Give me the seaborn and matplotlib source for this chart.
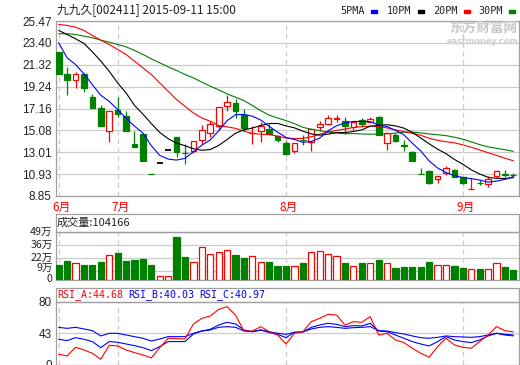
import numpy as np
import pandas as pd
import matplotlib
matplotlib.use("Agg")
import matplotlib.pyplot as plt
import seaborn as sns
from matplotlib.patches import Rectangle

# ---------------- data ----------------
opens = [22.51, 20.45, 19.91, 20.45, 18.29, 17.25, 14.99, 17.06, 16.49, 13.82,
         14.77, 10.98, 12.02, 13.22, 14.45, 12.98, 13.09, 14.17, 14.82, 15.50,
         17.37, 17.72, 16.50, 14.80, 14.99, 15.24, 14.57, 13.90, 13.09, 14.20,
         13.97, 15.41, 15.72, 16.20, 15.95, 15.41, 16.07, 15.85, 16.33, 13.88,
         14.61, 13.69, 13.03, 10.94, 11.19, 10.46, 11.03, 11.35, 10.65, 9.54,
         10.10, 10.01, 10.71, 10.90, 10.88]
highs = [22.51, 21.08, 20.67, 20.50, 18.58, 17.53, 16.93, 18.29, 16.90, 15.06,
         14.77, 10.98, 12.02, 13.22, 14.45, 13.75, 14.07, 15.57, 16.01, 17.31,
         18.45, 18.04, 17.12, 15.47, 15.92, 15.69, 14.68, 14.04, 13.88, 14.68,
         15.18, 15.95, 16.58, 16.58, 16.33, 16.01, 16.29, 16.33, 16.42, 14.90,
         14.80, 14.20, 13.12, 11.51, 11.35, 10.71, 11.66, 11.44, 10.65, 10.55,
         10.33, 10.71, 11.35, 11.28, 11.03]
lows = [20.48, 18.48, 19.15, 18.71, 17.18, 15.47, 13.95, 16.33, 14.99, 13.47,
        12.14, 10.90, 12.02, 13.22, 12.53, 11.85, 12.95, 13.82, 14.49, 15.15,
        16.96, 16.26, 14.99, 13.76, 13.95, 14.74, 13.95, 12.71, 12.90, 13.73,
        13.09, 14.99, 15.63, 15.85, 14.77, 15.15, 15.47, 15.85, 14.61, 13.25,
        13.95, 13.09, 12.15, 10.93, 9.98, 10.08, 10.87, 10.62, 10.00, 9.54,
        9.85, 9.70, 10.55, 10.65, 10.62]
closes = [20.48, 19.85, 20.48, 19.12, 17.18, 15.47, 16.93, 16.61, 14.99, 13.47,
          12.14, 10.93, 12.02, 13.22, 13.00, 12.95, 14.07, 15.13, 15.72, 17.31,
          17.79, 16.89, 15.30, 14.84, 15.50, 14.78, 14.14, 12.80, 13.88, 14.14,
          15.18, 15.72, 16.29, 16.26, 15.53, 15.85, 15.72, 16.20, 14.61, 14.84,
          14.04, 13.63, 12.20, 10.93, 10.08, 10.71, 11.51, 10.65, 10.08, 9.55,
          10.05, 10.49, 11.19, 10.84, 10.85]
# volume in 万
volumes = [15.4, 19.5, 17.1, 15.4, 15.4, 18.2, 25.7, 27.7, 19.5, 20.2,
           21.3, 15.4, 4.5, 4.5, 44.5, 24.0, 18.2, 33.6, 26.4, 28.4,
           30.5, 25.7, 22.6, 24.7, 18.2, 18.2, 14.4, 14.4, 14.4, 17.1,
           28.4, 29.5, 26.4, 24.3, 17.1, 14.7, 17.1, 17.1, 20.2, 17.1,
           12.0, 13.4, 13.4, 13.4, 18.2, 15.4, 15.4, 14.4, 12.0, 11.0,
           11.0, 11.0, 17.1, 13.4, 10.42]
# moving-average values before enough closes are on screen
ma5_head = [23.40, 21.97, 21.34, 20.45]
ma10_head = [24.57, 24.19, 23.78, 23.34, 22.54, 21.66, 20.70, 19.59, 18.64]
ma20_head = [25.14, 25.05, 24.89, 24.57, 24.10, 23.65, 23.24, 22.77, 22.29, 21.66,
             21.02, 20.39, 19.59, 18.80, 18.01, 17.37, 16.74, 16.26, 15.95]
ma30_head = [24.26, 24.26, 24.19, 24.03, 23.88, 23.65, 23.46, 23.24, 23.02, 22.67,
             22.29, 21.88, 21.50, 21.12, 20.77, 20.39, 20.07, 19.66, 19.28, 18.93,
             18.55, 18.23, 17.91, 17.44, 16.96, 16.52, 16.26, 16.01, 15.72]
rsi_a = [18.5, 16.5, 26.6, 23.5, 19.6, 12.6, 29.0, 28.2, 23.5, 20.4,
         17.7, 14.2, 26.2, 37.2, 36.8, 36.4, 53.9, 60.5, 63.3, 71.0,
         74.2, 64.4, 45.7, 45.7, 50.8, 44.9, 41.0, 30.5, 43.0, 44.9,
         56.6, 60.5, 65.2, 64.4, 52.7, 56.6, 55.9, 62.5, 41.0, 43.0,
         35.2, 32.1, 25.5, 19.6, 15.0, 27.4, 37.2, 29.4, 26.6, 25.5,
         33.3, 41.0, 50.8, 46.1, 44.68]
rsi_b = [36.0, 34.4, 37.9, 36.0, 33.3, 26.2, 33.3, 32.5, 30.5, 28.6,
         26.2, 22.7, 27.4, 33.3, 33.3, 33.3, 42.2, 45.7, 47.7, 52.7,
         55.9, 53.9, 46.9, 44.9, 46.9, 43.8, 41.8, 37.9, 44.2, 44.6,
         50.0, 52.7, 54.7, 53.5, 50.8, 52.0, 51.6, 54.7, 45.7, 44.9,
         41.0, 37.2, 33.3, 30.5, 28.2, 33.3, 39.1, 35.2, 33.3, 32.1,
         35.2, 39.9, 43.0, 41.0, 40.03]
rsi_c = [50.0, 48.8, 50.0, 48.1, 46.1, 39.9, 43.0, 43.0, 41.0, 39.1,
         37.2, 34.0, 36.4, 39.1, 39.1, 39.1, 43.0, 45.7, 46.9, 50.0,
         50.8, 50.0, 45.7, 44.9, 46.9, 44.9, 43.0, 41.8, 44.2, 44.6,
         48.1, 50.0, 50.8, 50.0, 48.8, 49.6, 50.0, 50.8, 46.1, 45.7,
         43.8, 42.2, 39.9, 37.9, 37.2, 38.3, 39.9, 39.1, 38.7, 38.3,
         39.1, 41.0, 43.0, 41.8, 40.97]
month_idx = [0, 7, 27, 48]
month_labels = ["6月", "7月", "8月", "9月"]
price_ticks = [8.85, 10.93, 13.01, 15.08, 17.16, 19.24, 21.32, 23.40, 25.47]
vol_ticks = [0, 9.2, 22.6, 36.0, 49.4]
vol_labels = ["0", "9万", "22万", "36万", "49万"]
rsi_ticks = [6, 43, 80]
rsi_labels = ["0", "43", "80"]
title = "九九久[002411] 2015-09-11 15:00"
vol_title = "成交量:104166"

# ---------------- style ----------------
sns.set_style("white")
CJK = ["Noto Sans CJK SC", "DejaVu Sans"]
plt.rcParams["font.family"] = ["Liberation Sans", "Noto Sans CJK SC", "DejaVu Sans"]
RED, GREEN, BLUE = "#ff0000", "#008000", "#0000ff"
GRID, BORDER, TXT = "#cccccc", "#a0a0a0", "#222222"

W, H = 520, 365
fig = plt.figure(figsize=(W / 100, H / 100), dpi=100)
fig.patch.set_facecolor("white")


def rect(x, y, w, h):
    return [x / W, 1 - (y + h) / H, w / W, h / H]


n = len(closes)
idx = np.arange(n)
XLIM = (-0.32, n - 0.33)


def ma(head, k):
    out = list(head)
    for i in range(len(head), n):
        out.append(float(np.mean(closes[i - k + 1:i + 1])))
    return out


df = pd.DataFrame({"i": idx, "o": opens, "h": highs, "l": lows, "c": closes,
                   "v": volumes, "ma5": ma(ma5_head, 5), "ma10": ma(ma10_head, 10),
                   "ma20": ma(ma20_head, 20), "ma30": ma(ma30_head, 30),
                   "ra": rsi_a, "rb": rsi_b, "rc": rsi_c})


def style_axis(a, size=8.5):
    for s in a.spines.values():
        s.set_color(BORDER)
        s.set_linewidth(0.9)
    a.tick_params(axis="y", length=0, pad=3, labelsize=size, labelcolor=TXT)
    a.tick_params(axis="x", length=0, labelbottom=False)
    a.set_xlim(*XLIM)
    for m in month_idx:
        a.axvline(m, color=GRID, lw=0.9, ls=(0, (4, 3)), zorder=0)


# ---------------- price panel ----------------
ax = fig.add_axes(rect(56, 21, 463, 175))
style_axis(ax)
ax.set_ylim(8.85, 25.47)
ax.set_yticks(price_ticks)
ax.set_yticklabels([f"{t:.2f}" for t in price_ticks])
ax.yaxis.grid(True, color=GRID, lw=0.9)
ax.set_axisbelow(True)

bw = 0.68
for r in df.itertuples():
    if r.h == r.l:
        ax.hlines(r.c, r.i - bw / 2, r.i + bw / 2, color="black", lw=1.3, zorder=3)
        continue
    up = r.c >= r.o
    col = RED if up else GREEN
    top, bot = max(r.o, r.c), min(r.o, r.c)
    ax.vlines(r.i, top, r.h, color=col, lw=0.9, zorder=3)
    ax.vlines(r.i, r.l, bot, color=col, lw=0.9, zorder=3)
    ax.bar(r.i, top - bot, bottom=bot, width=bw, facecolor="white" if up else GREEN,
           edgecolor=col, linewidth=0.9, zorder=4)

for col_name, color in [("ma30", GREEN), ("ma20", RED), ("ma10", "black"), ("ma5", BLUE)]:
    sns.lineplot(data=df, x="i", y=col_name, ax=ax, color=color, lw=0.8, legend=False, zorder=5)
ax.set_xlabel("")
ax.set_ylabel("")

for m, lab in zip(month_idx, month_labels):
    ax.annotate(lab, xy=(m, 0), xycoords=("data", "axes fraction"), xytext=(2, -8),
                textcoords="offset points", ha="center", va="center", color=RED,
                fontsize=8.5, family=CJK)

# watermark
fig.text(483 / W, 1 - 28 / H, "东方财富网", family=CJK, fontsize=9.8, fontweight="bold",
         color="#c8c8c8", ha="center", va="center")
fig.text(483 / W, 1 - 41 / H, "eastmoney.com", fontsize=5.9, fontweight="bold",
         color="#cfcfcf", ha="center", va="center", family=["DejaVu Sans"])

# title & legend
fig.text(57 / W, 1 - 10 / H, title, family=CJK, fontsize=8.5, color=TXT, va="center")
leg_items = [("5PMA", BLUE, 340), ("10PM", "black", 387), ("20PM", RED, 433), ("30PM", GREEN, 478)]
for lab, c, xp in leg_items:
    fig.text(xp / W, 1 - 11 / H, lab, family=["DejaVu Sans Mono"], fontsize=7.3,
             color=TXT, va="center")
    fig.patches.append(Rectangle(((xp + 31) / W, 1 - 12.5 / H), 6 / W, 3 / H,
                                 transform=fig.transFigure, color=c))

# ---------------- volume panel ----------------
fig.patches.append(Rectangle((56 / W, 1 - 232 / H), 463 / W, 18 / H, transform=fig.transFigure,
                             fill=False, edgecolor=BORDER, lw=0.9))
fig.text(57 / W, 1 - 223 / H, vol_title, family=CJK, fontsize=8, color=TXT, va="center")
axv = fig.add_axes(rect(56, 232, 463, 48))
style_axis(axv, size=7.6)
axv.set_ylim(0, 49.4)
axv.set_yticks(vol_ticks)
axv.set_yticklabels([])
axv.yaxis.grid(True, color=GRID, lw=0.9)
axv.set_axisbelow(True)
# tick texts placed by value; the two lowest are nudged apart as in the reference
nudge = {"0": 0.5, "9万": 2.0}
for t, lab in zip(vol_ticks, vol_labels):
    axv.annotate(lab, xy=(0, t), xycoords=("axes fraction", "data"),
                 xytext=(-2.5, nudge.get(lab, 0.0)), textcoords="offset points",
                 ha="right", va="center", fontsize=7.6, color=TXT, family=CJK,
                 annotation_clip=False)
for r in df.itertuples():
    up = r.c >= r.o
    axv.bar(r.i, r.v, width=0.74, facecolor="white" if up else GREEN,
            edgecolor=RED if up else GREEN, linewidth=0.9, zorder=3)

# ---------------- RSI panel ----------------
fig.patches.append(Rectangle((56 / W, 1 - 301.7 / H), 463 / W, 13.7 / H, transform=fig.transFigure,
                             fill=False, edgecolor=BORDER, lw=0.9))
for txt, c, xp in [("RSI_A:44.68", RED, 57), ("RSI_B:40.03", BLUE, 128), ("RSI_C:40.97", BLUE, 199)]:
    fig.text(xp / W, 1 - 294.5 / H, txt, family=["DejaVu Sans Mono"], fontsize=7.2,
             color=c, va="center")
axr = fig.add_axes(rect(56, 301.7, 463, 63.3))
style_axis(axr)
axr.set_ylim(5.9, 80)
axr.set_yticks(rsi_ticks)
axr.set_yticklabels(rsi_labels)
axr.axhline(43, color=GRID, lw=0.9, zorder=0)
for col_name, color in [("rc", BLUE), ("rb", BLUE), ("ra", RED)]:
    sns.lineplot(data=df, x="i", y=col_name, ax=axr, color=color, lw=0.8, legend=False)
axr.set_xlabel("")
axr.set_ylabel("")
axr.set_xlim(*XLIM)

fig.savefig("out.png", dpi=100, facecolor="white")
